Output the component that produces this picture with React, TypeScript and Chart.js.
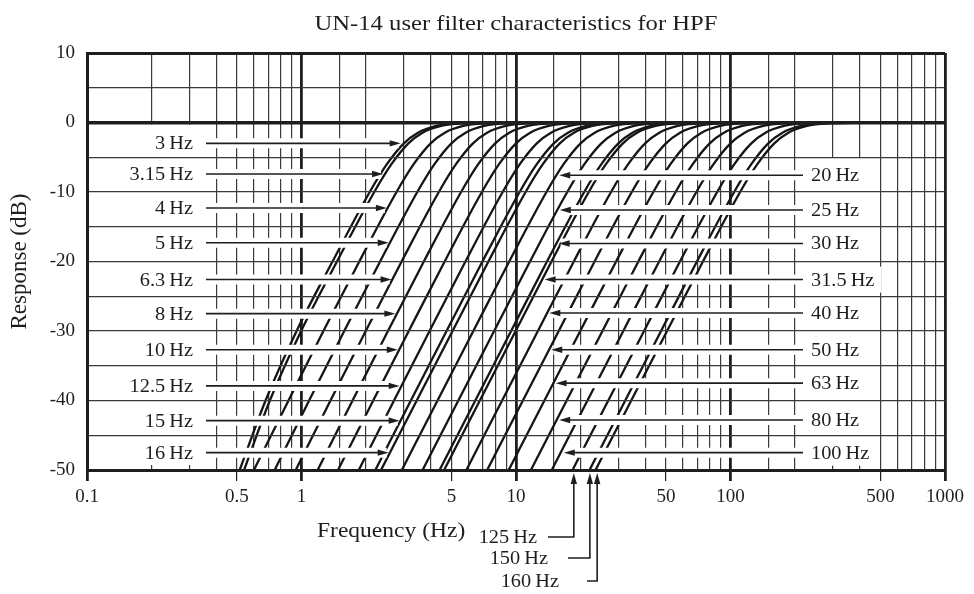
import React, { useEffect, useRef } from 'react';
import { Chart, registerables } from 'chart.js';

Chart.register(...registerables);

// ---------------- data ----------------
const TITLE = 'UN-14 user filter characteristics for HPF';
const X_TITLE = 'Frequency (Hz)';
const Y_TITLE = 'Response (dB)';

const X_MIN = 0.1;
const X_MAX = 1000;
const Y_MIN = -50;
const Y_MAX = 10;
const X_TICK_LABELS = [0.1, 0.5, 1, 5, 10, 50, 100, 500, 1000];
const Y_TICK_STEP = 5;
const Y_LABEL_STEP = 10;

// response levels (dB) shared by every curve; frequencies below are read per curve
const RESPONSE_DB = [-50, -40, -30, -20, -10, -6, -3, -1.5, -0.5, -0.1, 0, 0];

const CUTOFF_LABELS = [
  '3', '3.15', '4', '5', '6.3', '8', '10', '12.5', '15', '16', '20',
  '25', '30', '31.5', '40', '50', '63', '80', '100', '125', '150', '160',
];

// frequency (Hz) of each curve at the RESPONSE_DB levels
const CURVE_FREQS: number[][] = [
  [0.515, 0.68, 0.949, 1.395, 2.08, 2.501, 3.0, 3.477, 4.26, 5.613, 9.6, 1000],
  [0.54, 0.712, 0.996, 1.464, 2.184, 2.626, 3.15, 3.651, 4.473, 5.894, 10.08, 1000],
  [0.6, 0.87, 1.265, 1.86, 2.774, 3.334, 4.0, 4.636, 5.68, 7.484, 12.8, 1000],
  [0.75, 1.085, 1.582, 2.325, 3.467, 4.168, 5.0, 5.795, 7.1, 9.355, 16, 1000],
  [0.94, 1.365, 1.993, 2.929, 4.368, 5.251, 6.3, 7.302, 8.946, 11.79, 20.16, 1000],
  [1.19, 1.73, 2.53, 3.719, 5.547, 6.668, 8.0, 9.272, 11.36, 14.97, 25.6, 1000],
  [1.48, 2.16, 3.163, 4.649, 6.934, 8.335, 10, 11.59, 14.2, 18.71, 32, 1000],
  [1.85, 2.7, 3.954, 5.811, 8.668, 10.42, 12.5, 14.49, 17.75, 23.39, 40, 1000],
  [2.21, 3.235, 4.745, 6.974, 10.4, 12.5, 15, 17.39, 21.3, 28.07, 48, 1000],
  [2.349, 3.446, 5.061, 7.438, 11.09, 13.34, 16, 18.54, 22.72, 29.94, 51.2, 1000],
  [2.936, 4.308, 6.326, 9.298, 13.87, 16.67, 20, 23.18, 28.4, 37.42, 64, 1000],
  [3.67, 5.385, 7.908, 11.62, 17.34, 20.84, 25, 28.98, 35.5, 46.78, 80, 1000],
  [4.404, 6.462, 9.489, 13.95, 20.8, 25.01, 30, 34.77, 42.6, 56.13, 96, 1000],
  [4.624, 6.785, 9.963, 14.64, 21.84, 26.26, 31.5, 36.51, 44.73, 58.94, 100.8, 1000],
  [5.872, 8.616, 12.65, 18.6, 27.74, 33.34, 40, 46.36, 56.8, 74.84, 128, 1000],
  [7.34, 10.77, 15.82, 23.25, 34.67, 41.68, 50, 57.95, 71, 93.55, 160, 1000],
  [9.248, 13.57, 19.93, 29.29, 43.68, 52.51, 63, 73.02, 89.46, 117.9, 201.6, 1000],
  [11.74, 17.23, 25.3, 37.19, 55.47, 66.68, 80, 92.72, 113.6, 149.7, 256, 1000],
  [14.68, 21.54, 31.63, 46.49, 69.34, 83.35, 100, 115.9, 142, 187.1, 320, 1000],
  [18.35, 26.93, 39.54, 58.11, 86.68, 104.2, 125, 144.9, 177.5, 233.9, 400, 1000],
  [22.02, 32.31, 47.45, 69.74, 104.0, 125.0, 150, 173.9, 213, 280.7, 480, 1000],
  [23.49, 34.46, 50.61, 74.38, 110.9, 133.4, 160, 185.4, 227.2, 299.4, 512, 1000],
];

// call-out arrows: labels on the left pointing right
const LEFT_LABELS = ['3', '3.15', '4', '5', '6.3', '8', '10', '12.5', '15', '16'];
const LEFT_ROW_DB = [-3, -7.4, -12.3, -17.3, -22.6, -27.5, -32.7, -37.9, -42.9, -47.5];
const LEFT_TIP_HZ = [2.9, 2.4, 2.5, 2.55, 2.63, 2.74, 2.81, 2.87, 2.87, 2.55];

// labels on the right pointing left
const RIGHT_LABELS = ['20', '25', '30', '31.5', '40', '50', '63', '80', '100'];
const RIGHT_ROW_DB = [-7.6, -12.6, -17.4, -22.6, -27.4, -32.7, -37.5, -42.8, -47.5];
const RIGHT_TIP_HZ = [15.9, 16.0, 15.8, 13.6, 14.3, 14.6, 15.3, 15.9, 16.7];

// labels below the axis pointing up
const BOTTOM_LABELS = ['125', '150', '160'];
const BOTTOM_TIP_HZ = [18.6, 22.1, 23.9];

// ---------------- drawing helpers ----------------
const SERIF = '"Liberation Serif", "Times New Roman", Times, serif';
const INK = '#1e1e1e';
const GRID = '#3a3a3a';
const SX = 1.13; // horizontal stretch of the lettering

function drawText(
  ctx: CanvasRenderingContext2D,
  text: string,
  x: number,
  y: number,
  align: CanvasTextAlign,
  size: number,
  sx = SX,
) {
  ctx.save();
  ctx.font = `${size}px ${SERIF}`;
  ctx.textAlign = align;
  ctx.textBaseline = 'alphabetic';
  ctx.fillStyle = INK;
  ctx.translate(x, y);
  ctx.scale(sx, 1);
  ctx.fillText(text, 0, 0);
  ctx.restore();
}

function textWidth(ctx: CanvasRenderingContext2D, text: string, size: number, sx = SX) {
  ctx.save();
  ctx.font = `${size}px ${SERIF}`;
  const w = ctx.measureText(text).width * sx;
  ctx.restore();
  return w;
}

function arrowHead(
  ctx: CanvasRenderingContext2D,
  tipX: number,
  tipY: number,
  dx: number,
  dy: number,
  len = 11,
  half = 3.2,
) {
  const bx = tipX - dx * len;
  const by = tipY - dy * len;
  const px = -dy;
  const py = dx;
  ctx.beginPath();
  ctx.moveTo(tipX, tipY);
  ctx.lineTo(bx + px * half, by + py * half);
  ctx.lineTo(bx - px * half, by - py * half);
  ctx.closePath();
  ctx.fill();
}

const hz = (s: string) => `${s}\u2009Hz`;

const LABEL_SIZE = 18;
const LEFT_TEXT_RIGHT = 193;
const LEFT_ARROW_START = 206;
const RIGHT_TEXT_LEFT = 811;
const RIGHT_ARROW_START = 803;
const LEFT_BOX_RIGHT = 213;
const RIGHT_BOX = [799, 878];
const BOTTOM_LEADER_Y = [537, 558, 581];
const BOTTOM_LEADER_X0 = [548, 568, 587];
const BOTTOM_TEXT_RIGHT = [537, 548, 559];

const annotate = {
  id: 'annotate',
  beforeDatasetsDraw(chart: any) {
    const { ctx, chartArea: a, scales } = chart;
    const y = scales.y;
    ctx.save();
    ctx.fillStyle = '#ffffff';
    const bottom = y.getPixelForValue(Y_MIN) - 5;
    const topL = y.getPixelForValue(0) + 2;
    ctx.fillRect(a.left + 2, topL, LEFT_BOX_RIGHT - a.left - 2, bottom - topL);
    const topR = y.getPixelForValue(-5);
    ctx.fillRect(RIGHT_BOX[0], topR, RIGHT_BOX[1] - RIGHT_BOX[0], bottom - topR);
    ctx.restore();
  },
  afterDatasetsDraw(chart: any) {
    const { ctx, scales } = chart;
    const x = scales.x;
    const y = scales.y;
    ctx.save();
    // white halos behind the call-out lines
    ctx.strokeStyle = '#ffffff';
    ctx.lineWidth = 10;
    ctx.lineCap = 'butt';
    LEFT_ROW_DB.forEach((db, i) => {
      const py = y.getPixelForValue(db);
      const tx = x.getPixelForValue(LEFT_TIP_HZ[i]);
      ctx.beginPath();
      ctx.moveTo(LEFT_ARROW_START - 2, py);
      ctx.lineTo(tx - 2, py);
      ctx.stroke();
    });
    RIGHT_ROW_DB.forEach((db, i) => {
      const py = y.getPixelForValue(db);
      const tx = x.getPixelForValue(RIGHT_TIP_HZ[i]);
      ctx.beginPath();
      ctx.moveTo(RIGHT_ARROW_START + 2, py);
      ctx.lineTo(tx + 2, py);
      ctx.stroke();
    });
    // white boxes behind right labels
    RIGHT_LABELS.forEach((lab, i) => {
      const py = y.getPixelForValue(RIGHT_ROW_DB[i]);
      const w = textWidth(ctx, hz(lab), LABEL_SIZE);
      ctx.fillStyle = '#ffffff';
      ctx.fillRect(RIGHT_TEXT_LEFT - 3, py - 13, w + 10, 26);
    });

    // arrows
    ctx.strokeStyle = INK;
    ctx.fillStyle = INK;
    ctx.lineWidth = 1.6;
    LEFT_ROW_DB.forEach((db, i) => {
      const py = y.getPixelForValue(db);
      const tx = x.getPixelForValue(LEFT_TIP_HZ[i]);
      ctx.beginPath();
      ctx.moveTo(LEFT_ARROW_START, py);
      ctx.lineTo(tx - 8, py);
      ctx.stroke();
      arrowHead(ctx, tx, py, 1, 0);
      drawText(ctx, hz(LEFT_LABELS[i]), LEFT_TEXT_RIGHT, py + 6, 'right', LABEL_SIZE);
    });
    RIGHT_ROW_DB.forEach((db, i) => {
      const py = y.getPixelForValue(db);
      const tx = x.getPixelForValue(RIGHT_TIP_HZ[i]);
      ctx.beginPath();
      ctx.moveTo(RIGHT_ARROW_START, py);
      ctx.lineTo(tx + 8, py);
      ctx.stroke();
      arrowHead(ctx, tx, py, -1, 0);
      drawText(ctx, hz(RIGHT_LABELS[i]), RIGHT_TEXT_LEFT, py + 6, 'left', LABEL_SIZE);
    });
    ctx.restore();
  },
  afterDraw(chart: any) {
    const { ctx, chartArea: a, scales } = chart;
    const x = scales.x;
    const y = scales.y;
    ctx.save();
    // bottom call-outs
    ctx.strokeStyle = INK;
    ctx.fillStyle = INK;
    ctx.lineWidth = 1.6;
    const tipY = y.getPixelForValue(Y_MIN) + 3;
    BOTTOM_TIP_HZ.forEach((f, i) => {
      const px = x.getPixelForValue(f);
      const ly = BOTTOM_LEADER_Y[i];
      ctx.beginPath();
      ctx.moveTo(BOTTOM_LEADER_X0[i], ly);
      ctx.lineTo(px, ly);
      ctx.lineTo(px, tipY + 8);
      ctx.stroke();
      arrowHead(ctx, px, tipY, 0, -1);
      drawText(ctx, hz(BOTTOM_LABELS[i]), BOTTOM_TEXT_RIGHT[i], ly + 6, 'right', LABEL_SIZE);
    });
    // titles
    drawText(ctx, TITLE, (a.left + a.right) / 2, 30, 'center', 22, 1.12);
    drawText(ctx, X_TITLE, 317, 537, 'left', 21, 1.12);
    ctx.save();
    ctx.translate(26, (a.top + a.bottom) / 2);
    ctx.rotate(-Math.PI / 2);
    ctx.font = `23px ${SERIF}`;
    ctx.textAlign = 'center';
    ctx.textBaseline = 'alphabetic';
    ctx.fillStyle = INK;
    ctx.fillText(Y_TITLE, 0, 0);
    ctx.restore();
    ctx.restore();
  },
};

const isDecade = (v: number) => {
  const l = Math.log10(v);
  return Math.abs(l - Math.round(l)) < 1e-6;
};
const isLabelled = (v: number) => X_TICK_LABELS.some((t) => Math.abs(v - t) / t < 1e-6);

export default function App() {
  const ref = useRef<HTMLCanvasElement>(null);

  useEffect(() => {
    const canvas = ref.current;
    if (!canvas) return;
    const datasets = CURVE_FREQS.map((freqs, i) => ({
      label: hz(CUTOFF_LABELS[i]),
      data: freqs.map((f, j) => ({ x: f, y: RESPONSE_DB[j] })),
      borderColor: '#151515',
      borderWidth: 2.3,
      pointRadius: 0,
      fill: false,
      cubicInterpolationMode: 'monotone' as const,
    }));

    const chart = new Chart(canvas, {
      type: 'line',
      data: { datasets },
      options: {
        responsive: false,
        animation: false,
        devicePixelRatio: 1,
        events: [],
        layout: { padding: { top: 53, right: 29, bottom: 0, left: 0 } },
        plugins: {
          legend: { display: false },
          tooltip: { enabled: false },
          title: { display: false },
        },
        scales: {
          x: {
            type: 'logarithmic',
            min: X_MIN,
            max: X_MAX,
            afterFit: (s: any) => {
              s.height = 124;
            },
            border: { display: true, width: 3, color: INK },
            grid: {
              drawOnChartArea: true,
              drawTicks: true,
              tickLength: 11,
              lineWidth: (c: any) => (c.tick && isDecade(c.tick.value) ? 2.8 : 1.2),
              color: (c: any) => (c.tick && isDecade(c.tick.value) ? INK : GRID),
              tickColor: (c: any) => (c.tick && isLabelled(c.tick.value) ? INK : 'rgba(0,0,0,0)'),
              tickWidth: (c: any) => (c.tick && isDecade(c.tick.value) ? 2.8 : 1.2),
            },
            ticks: {
              autoSkip: false,
              maxRotation: 0,
              minRotation: 0,
              padding: 5,
              color: INK,
              font: { family: SERIF, size: 19 },
              callback: (v: any) => {
                const n = Number(v);
                return isLabelled(n) ? String(n) : '';
              },
            },
          },
          y: {
            type: 'linear',
            min: Y_MIN,
            max: Y_MAX,
            afterFit: (s: any) => {
              s.width = 87;
            },
            border: { display: true, width: 3, color: INK },
            grid: {
              z: 1,
              drawTicks: false,
              lineWidth: (c: any) => {
                const v = c.tick ? c.tick.value : NaN;
                if (v === 0) return 3.5;
                if (v === Y_MAX || v === Y_MIN) return 3;
                return 1.2;
              },
              color: (c: any) => {
                const v = c.tick ? c.tick.value : NaN;
                return v === 0 || v === Y_MAX || v === Y_MIN ? INK : GRID;
              },
            },
            ticks: {
              stepSize: Y_TICK_STEP,
              padding: 12,
              color: INK,
              font: { family: SERIF, size: 19 },
              callback: (v: any) => (Number(v) % Y_LABEL_STEP === 0 ? String(v) : ''),
            },
          },
        },
      },
      plugins: [annotate],
    });

    let alive = true;
    const fonts = (document as any).fonts;
    if (fonts && fonts.ready) {
      fonts.ready.then(() => {
        if (alive) chart.update();
      });
    }
    return () => {
      alive = false;
      chart.destroy();
    };
  }, []);

  return (
    <div style={{ position: 'fixed', left: 0, top: 0, width: 974, height: 594, background: '#fff' }}>
      <canvas ref={ref} width={974} height={594} style={{ width: 974, height: 594, display: 'block' }} />
    </div>
  );
}
